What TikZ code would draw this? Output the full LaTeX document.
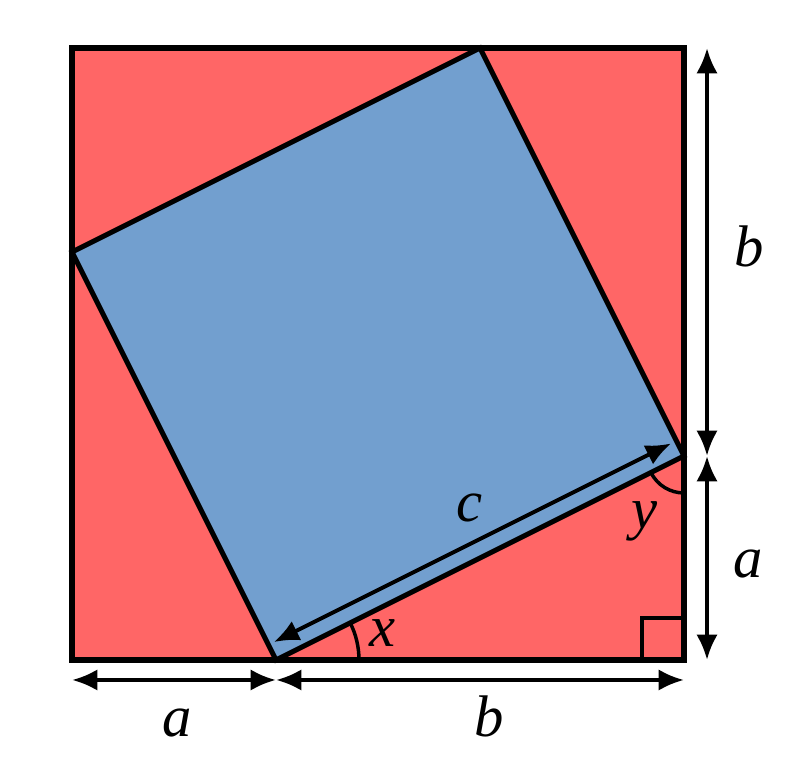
\documentclass[tikz,border=0pt]{standalone}
\usepackage{fontspec}
\setmainfont{Liberation Serif}
\usetikzlibrary{arrows.meta,calc}
\definecolor{redfill}{RGB}{255,102,102}
\definecolor{bluefill}{RGB}{114,159,207}
\begin{document}
\begin{tikzpicture}[x=0.75pt,y=0.75pt,
  edge/.style={line width=3.8pt,line join=miter},
  dim/.style={line width=2.9pt,{Latex[length=19pt,width=16pt]}-{Latex[length=19pt,width=16pt]}},
  anglearc/.style={line width=2.6pt},
  lbl/.style={anchor=base,inner sep=0pt,font=\fontsize{44}{50}\selectfont\itshape}]
\useasboundingbox (0,0) rectangle (800,760);
% outer square corners
\coordinate (P1) at (72,100);
\coordinate (P2) at (684,100);
\coordinate (P3) at (684,712);
\coordinate (P4) at (72,712);
% inner square corners
\coordinate (B) at (276,100);
\coordinate (R) at (684,304);
\coordinate (T) at (480,712);
\coordinate (L) at (72,508);
\fill[redfill] (P1) -- (P2) -- (P3) -- (P4) -- cycle;
\filldraw[fill=bluefill,edge] (B) -- (R) -- (T) -- (L) -- cycle;
% right angle mark
\coordinate (Q1) at (642,100);
\coordinate (Q2) at (642,142);
\coordinate (Q3) at (684,142);
\draw[line width=3.2pt] (Q1) -- (Q2) -- (Q3);
\draw[edge] (P1) -- (P2) -- (P3) -- (P4) -- cycle;
% angle arcs
\draw[anglearc] ([shift={(0:62.25pt)}]B) arc[start angle=0,end angle=26.57,radius=62.25pt];
\draw[anglearc] ([shift={(206.57:27.75pt)}]R) arc[start angle=206.57,end angle=270,radius=27.75pt];
% c arrow
\coordinate (C1) at ($(B)!0.013!(R)+(-7.6,15.2)$);
\coordinate (C2) at ($(R)!0.013!(B)+(-7.6,15.2)$);
\draw[dim] (C1) -- (C2);
% dimension arrows
\coordinate (V1) at (707,712);
\coordinate (V2) at (707,304);
\coordinate (V3) at (707,100);
\coordinate (H1) at (72,80);
\coordinate (H2) at (276,80);
\coordinate (H3) at (684,80);
\draw[dim] (V1) -- (V2);
\draw[dim] (V2) -- (V3);
\draw[dim] (H1) -- (H2);
\draw[dim] (H2) -- (H3);
% labels
\node[lbl] (lb1) at (749,493) {b};
\node[lbl] (la1) at (748,182) {a};
\node[lbl] (la2) at (177,23) {a};
\node[lbl] (lb2) at (489,23) {b};
\node[lbl] (lc) at (470,238) {c};
\node[lbl] (lx) at (383,113) {x};
\node[lbl] (ly) at (645,231) {y};
\end{tikzpicture}
\end{document}
